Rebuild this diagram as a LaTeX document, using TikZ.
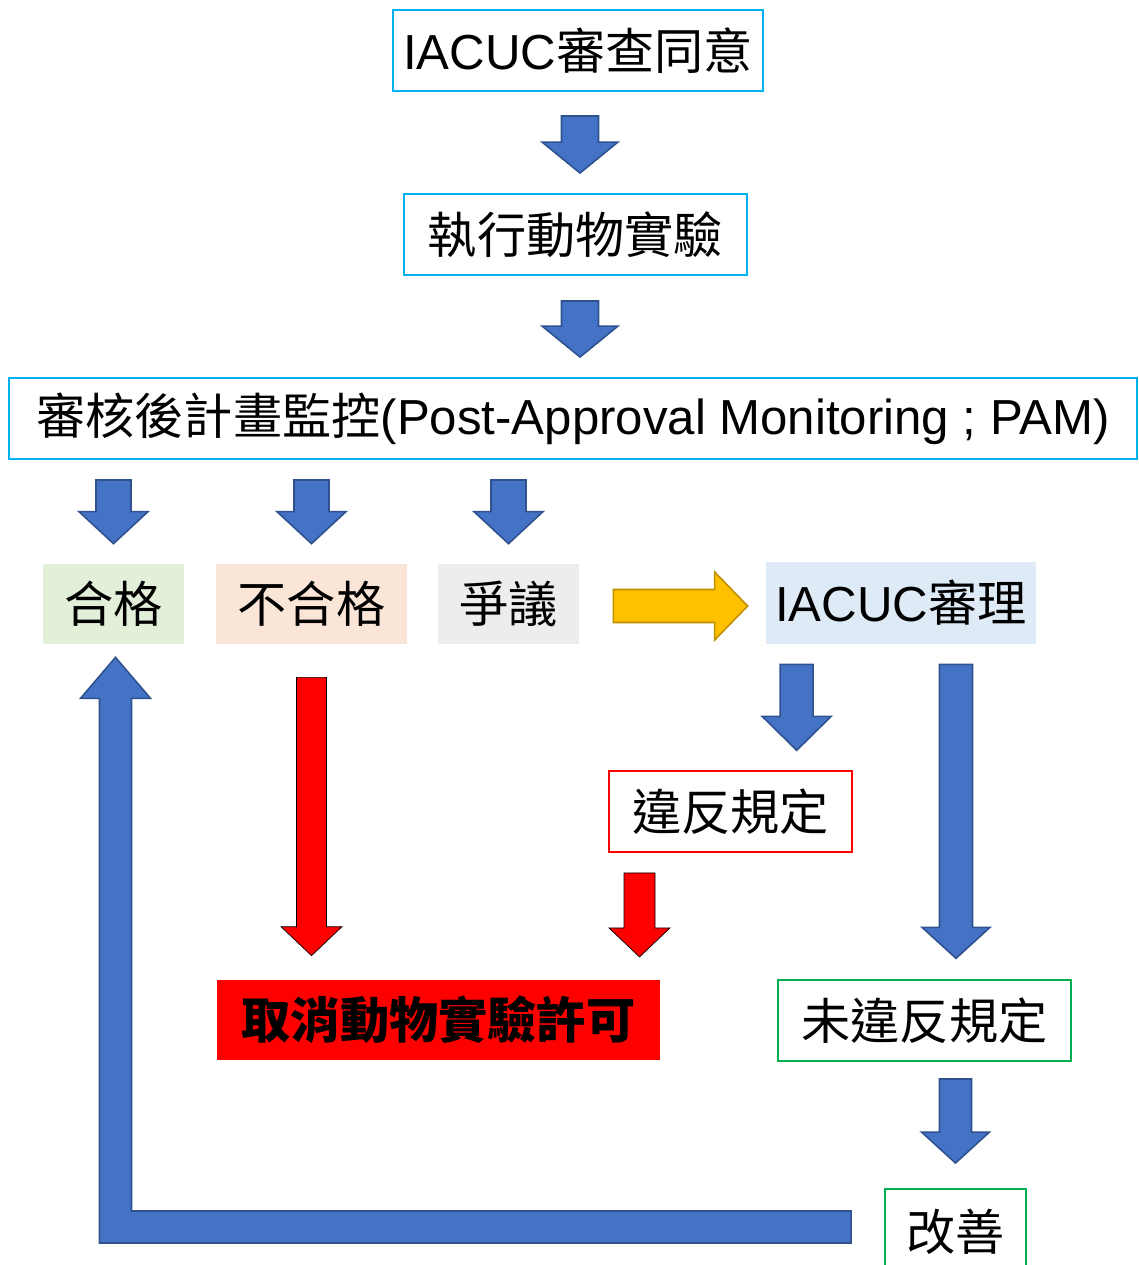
\documentclass[tikz,border=0pt]{standalone}
\usepackage{fontspec}
\setmainfont{Liberation Sans}
\newfontfamily\cjk{Noto Sans CJK TC}
\usepackage{xcolor}
\usetikzlibrary{calc}

\definecolor{boxcyan}{RGB}{0,176,240}
\definecolor{boxgreen}{RGB}{0,176,80}
\definecolor{arrowblue}{RGB}{68,114,196}
\definecolor{arrowedge}{RGB}{47,82,143}
\definecolor{arrowgold}{RGB}{255,192,0}
\definecolor{goldedge}{RGB}{191,144,0}
\definecolor{passfill}{RGB}{226,240,217}
\definecolor{failfill}{RGB}{251,229,214}
\definecolor{disputefill}{RGB}{237,237,237}
\definecolor{reviewfill}{RGB}{222,235,247}

% block arrow: #1 look, #2 tail, #3 tip, #4 half shaft, #5 half head, #6 head length
\newcommand{\blockarrow}[6]{%
  \coordinate (tail) at #2;
  \coordinate (tip) at #3;
  \coordinate (neck) at ($(tip)!#6!(tail)$);
  \draw[#1] ($(tail)!#4!90:(tip)$) -- ($(neck)!#4!90:(tip)$) -- ($(neck)!#5!90:(tip)$)
    -- (tip) -- ($(neck)!#5!-90:(tip)$) -- ($(neck)!#4!-90:(tip)$)
    -- ($(tail)!#4!-90:(tip)$) -- cycle;
}

\begin{document}
\begin{tikzpicture}[x=0.02cm,y=-0.02cm,
  every node/.style={font=\fontsize{28}{34}\selectfont, inner sep=0pt},
  linebox/.style={draw, line width=1.1pt, minimum height=1.62cm},
  fillbox/.style={minimum height=1.6cm},
  bluearrow/.style={fill=arrowblue, draw=arrowedge, line width=0.9pt, line join=miter},
  redarrow/.style={fill=red},
  goldarrow/.style={fill=arrowgold, draw=goldedge, line width=0.9pt, line join=miter}]

  \useasboundingbox (0,0) rectangle (1139,1265);

  % main line of boxes
  \node[linebox, draw=boxcyan, minimum width=7.4cm] (approve) at (578,50.5) {IACUC{\cjk 審查同意}};
  \node[linebox, draw=boxcyan, minimum width=6.86cm] (exec) at (575.5,234.5) {\cjk 執行動物實驗};
  \node[linebox, draw=boxcyan, minimum width=22.56cm] (pam) at (573,418.5)
    {{\cjk 審核後計畫監控}(Post-Approval Monitoring ; PAM)};

  % outcomes of the monitoring
  \node[fillbox, fill=passfill, minimum width=2.82cm] (pass) at (113.5,604) {\cjk 合格};
  \node[fillbox, fill=failfill, minimum width=3.82cm] (fail) at (311.5,604) {\cjk 不合格};
  \node[fillbox, fill=disputefill, minimum width=2.82cm] (dispute) at (508.5,604) {\cjk 爭議};
  \node[fillbox, fill=reviewfill, minimum width=5.4cm, minimum height=1.64cm] (review) at (901,603) {IACUC{\cjk 審理}};

  % results of the review
  \node[linebox, draw=red, minimum width=4.86cm] (violate) at (730.5,811.5) {\cjk 違反規定};
  \node[fillbox, fill=red, minimum width=8.86cm] (revoke) at (438.5,1020) {\cjk\bfseries 取消動物實驗許可};
  \node[linebox, draw=boxgreen, minimum width=5.86cm] (noviolate) at (924.5,1020.5) {\cjk 未違反規定};
  \node[linebox, draw=boxgreen, minimum width=2.82cm, minimum height=1.72cm] (improve) at (955.5,1232) {\cjk 改善};

  % block arrows down the main line
  \blockarrow{bluearrow}{($(approve.south)+(2,24)$)}{($(exec.north)+(4.5,-20)$)}{0.37cm}{0.76cm}{0.62cm}
  \blockarrow{bluearrow}{($(exec.south)+(4.5,25)$)}{($(pam.north)+(7,-20)$)}{0.37cm}{0.76cm}{0.62cm}
  \blockarrow{bluearrow}{($(pam.south -| pass.north)+(0,20)$)}{($(pass.north)+(0,-20)$)}{0.35cm}{0.69cm}{0.64cm}
  \blockarrow{bluearrow}{($(pam.south -| fail.north)+(0,20)$)}{($(fail.north)+(0,-20)$)}{0.35cm}{0.69cm}{0.64cm}
  \blockarrow{bluearrow}{($(pam.south -| dispute.north)+(0,20)$)}{($(dispute.north)+(0,-20)$)}{0.35cm}{0.69cm}{0.64cm}
  \blockarrow{goldarrow}{($(dispute.east)+(34,2)$)}{($(review.west)+(-18,3)$)}{0.33cm}{0.68cm}{0.66cm}

  % review branches
  \blockarrow{bluearrow}{($(review.south west)+(31,20)$)}{($(review.south west)+(31,106)$)}{0.33cm}{0.69cm}{0.68cm}
  \blockarrow{bluearrow}{($(review.south)+(55,20)$)}{($(review.south)+(55,314)$)}{0.33cm}{0.68cm}{0.62cm}
  \blockarrow{bluearrow}{($(noviolate.south -| improve.north)+(0,17)$)}{($(improve.north)+(0,-25)$)}{0.32cm}{0.68cm}{0.62cm}

  % revoking
  \blockarrow{redarrow}{($(fail.south)+(0,33)$)}{($(fail.south |- revoke.north)+(0,-24)$)}{0.3cm}{0.61cm}{0.58cm}
  \blockarrow{redarrow}{($(violate.south)+(-91,20)$)}{($(violate.south)+(-91,104)$)}{0.31cm}{0.61cm}{0.58cm}

  % back to pass
  \coordinate (back) at ($(improve.west)+(-33,-5)$);
  \coordinate (up) at ($(pass.south)+(2,13)$);
  \draw[bluearrow] ($(back)+(0,-16)$) -- ($(up |- back)+(16,-16)$) -- ($(up)+(16,41)$)
    -- ($(up)+(35,41)$) -- (up) -- ($(up)+(-35,41)$) -- ($(up)+(-16,41)$)
    -- ($(up |- back)+(-16,16)$) -- ($(back)+(0,16)$) -- cycle;

\end{tikzpicture}
\end{document}
